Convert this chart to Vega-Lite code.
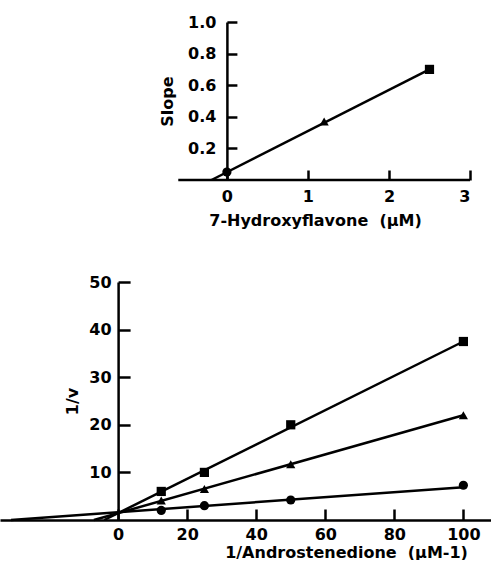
{
  "$schema": "https://vega.github.io/schema/vega-lite/v6.json",
  "padding": {"left": 0, "top": 14, "right": 0, "bottom": 0},
  "spacing": 46,
  "config": {
    "view": {"stroke": null},
    "axis": {
      "grid": false,
      "domainColor": "black",
      "domainWidth": 2.5,
      "tickColor": "black",
      "tickWidth": 2.5,
      "labelColor": "black",
      "labelFont": "DejaVu Sans",
      "labelFontWeight": "bold",
      "labelFontSize": 16,
      "titleColor": "black",
      "titleFont": "DejaVu Sans",
      "titleFontWeight": "bold",
      "titleFontSize": 16
    }
  },
  "datasets": {
    "topPoints": [
      {"hf": 0, "slope": 0.05, "series": "0"},
      {"hf": 1.2, "slope": 0.37, "series": "1.2"},
      {"hf": 2.5, "slope": 0.70, "series": "2.5"}
    ],
    "topLine": [
      {"hf": -0.19, "slope": 0},
      {"hf": 2.5, "slope": 0.70}
    ],
    "topAxisLine": [
      {"hf": -0.6, "hf_end": 3, "slope": 0}
    ],
    "bottomPoints": [
      {"inv_s": 12.5, "inv_v": 2.0, "series": "0"},
      {"inv_s": 25, "inv_v": 3.0, "series": "0"},
      {"inv_s": 50, "inv_v": 4.2, "series": "0"},
      {"inv_s": 100, "inv_v": 7.3, "series": "0"},
      {"inv_s": 12.5, "inv_v": 4.1, "series": "1.2"},
      {"inv_s": 25, "inv_v": 6.5, "series": "1.2"},
      {"inv_s": 50, "inv_v": 11.7, "series": "1.2"},
      {"inv_s": 100, "inv_v": 22.0, "series": "1.2"},
      {"inv_s": 12.5, "inv_v": 6.0, "series": "2.5"},
      {"inv_s": 25, "inv_v": 10.0, "series": "2.5"},
      {"inv_s": 50, "inv_v": 20.0, "series": "2.5"},
      {"inv_s": 100, "inv_v": 37.5, "series": "2.5"}
    ],
    "bottomLines": [
      {"inv_s": -31, "inv_v": 0, "series": "0"},
      {"inv_s": 100, "inv_v": 6.9, "series": "0"},
      {"inv_s": -7, "inv_v": 0, "series": "1.2"},
      {"inv_s": 100, "inv_v": 22.0, "series": "1.2"},
      {"inv_s": -4, "inv_v": 0, "series": "2.5"},
      {"inv_s": 100, "inv_v": 37.5, "series": "2.5"}
    ]
  },
  "vconcat": [
    {
      "width": 470,
      "height": 158,
      "encoding": {
        "x": {
          "field": "hf",
          "type": "quantitative",
          "scale": {"domain": [-2.8, 3], "nice": false, "zero": false},
          "axis": {
            "domain": false,
            "values": [0, 1, 2, 3],
            "tickSize": -10,
            "labelPadding": 26,
            "labelBaseline": "middle",
            "title": "7-Hydroxyflavone \u00a0(μM)",
            "titleX": 315,
            "titleY": 40,
            "titleBaseline": "middle",
            "titleAlign": "center"
          }
        },
        "y": {
          "field": "slope",
          "type": "quantitative",
          "scale": {"domain": [0, 1], "nice": false},
          "axis": {
            "values": [0.2, 0.4, 0.6, 0.8, 1.0],
            "format": ".1f",
            "offset": -226.9,
            "tickSize": -10,
            "labelPadding": 21,
            "title": "Slope",
            "titleX": -59,
            "titleBaseline": "middle",
            "titleAlign": "center"
          }
        }
      },
      "layer": [
        {
          "data": {"name": "topAxisLine"},
          "mark": {"type": "rule", "color": "black", "strokeWidth": 2.5},
          "encoding": {"x2": {"field": "hf_end"}}
        },
        {
          "data": {"name": "topLine"},
          "mark": {"type": "line", "color": "black", "strokeWidth": 2.5},
          "encoding": {}
        },
        {
          "data": {"name": "topPoints"},
          "mark": {"type": "point", "filled": true, "color": "black", "opacity": 1, "size": 85},
          "encoding": {
            "shape": {
              "field": "series",
              "type": "nominal",
              "scale": {"domain": ["0", "1.2", "2.5"], "range": ["circle", "triangle-up", "square"]},
              "legend": null
            }
          }
        }
      ]
    },
    {
      "width": 491,
      "height": 238,
      "encoding": {
        "x": {
          "field": "inv_s",
          "type": "quantitative",
          "scale": {"domain": [-34.2, 108], "nice": false, "zero": false},
          "axis": {
            "values": [0, 20, 40, 60, 80, 100],
            "tickSize": -11,
            "labelPadding": 25,
            "labelBaseline": "middle",
            "title": "1/Androstenedione \u00a0(μM-1)",
            "titleX": 346,
            "titleY": 32,
            "titleBaseline": "middle",
            "titleAlign": "center"
          }
        },
        "y": {
          "field": "inv_v",
          "type": "quantitative",
          "scale": {"domain": [0, 50], "nice": false},
          "axis": {
            "values": [10, 20, 30, 40, 50],
            "offset": -118.1,
            "tickSize": -12,
            "labelPadding": 19,
            "title": "1/v",
            "titleX": -46,
            "titleBaseline": "middle",
            "titleAlign": "center"
          }
        }
      },
      "layer": [
        {
          "data": {"name": "bottomLines"},
          "mark": {"type": "line", "color": "black", "strokeWidth": 2.5},
          "encoding": {"detail": {"field": "series", "type": "nominal"}}
        },
        {
          "data": {"name": "bottomPoints"},
          "mark": {"type": "point", "filled": true, "color": "black", "opacity": 1, "size": 85},
          "encoding": {
            "shape": {
              "field": "series",
              "type": "nominal",
              "scale": {"domain": ["0", "1.2", "2.5"], "range": ["circle", "triangle-up", "square"]},
              "legend": null
            }
          }
        }
      ]
    }
  ]
}
